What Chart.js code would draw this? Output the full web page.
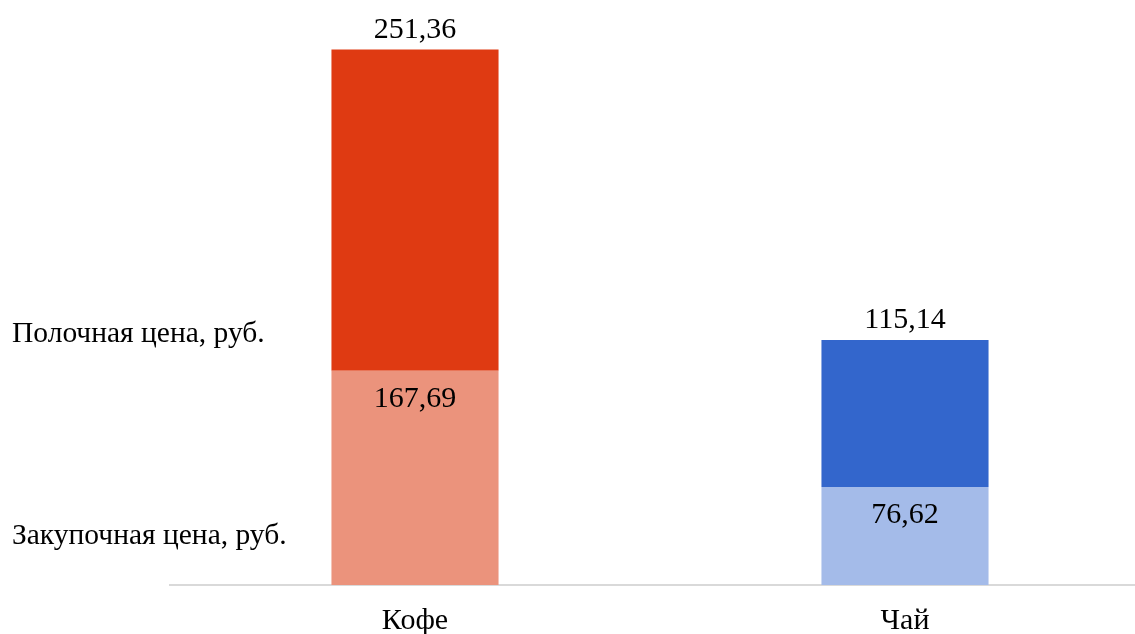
<!DOCTYPE html>
<html>
<head>
<meta charset="utf-8">
<script src="https://cdn.jsdelivr.net/npm/chart.js@4"></script>
<style>
  html, body { margin: 0; padding: 0; background: #fff; overflow: hidden; }
  #wrap { width: 1150px; height: 634px; }
</style>
</head>
<body>
<div id="wrap"><canvas id="grafico" width="1150" height="634"></canvas></div>
<script>
const categorias = ['Кофе', 'Чай'];
const serieNombres = ['Закупочная цена, руб.', 'Полочная цена, руб.'];
const zakupochnaya = [167.69, 76.62];
const polochnaya = [251.36, 115.14];

const FUENTE = "'Liberation Serif', 'Times New Roman', serif";

const formato = v => v.toFixed(2).replace('.', ',');

// etiquetas de valores y leyenda a la izquierda
const etiquetas = {
    id: 'etiquetas',
    afterDatasetsDraw(chart) {
        const ctx = chart.ctx;
        ctx.save();
        ctx.font = '30px ' + FUENTE;
        ctx.fillStyle = '#000';
        ctx.textAlign = 'center';
        ctx.textBaseline = 'alphabetic';
        chart.data.datasets.forEach((ds, i) => {
            const meta = chart.getDatasetMeta(i);
            meta.data.forEach((bar, j) => {
                const y = i === 0 ? bar.y + 36 : bar.y - 12;
                ctx.fillText(formato(ds.data[j]), bar.x, y);
            });
        });
        ctx.textAlign = 'left';
        ctx.font = '29.5px ' + FUENTE;
        ctx.fillText(serieNombres[1], 12, 342);
        ctx.fillText(serieNombres[0], 12, 544);
        ctx.restore();
    }
};

new Chart(document.getElementById('grafico').getContext('2d'), {
    type: 'bar',
    data: {
        labels: categorias,
        datasets: [
            { label: serieNombres[0], data: zakupochnaya, backgroundColor: ['#EB937C', '#A4BBE9'] },
            { label: serieNombres[1], data: polochnaya, backgroundColor: ['#DF3A12', '#3366CC'] }
        ]
    },
    options: {
        responsive: false,
        animation: false,
        layout: { padding: { left: 170, right: 0, top: 10, bottom: -23 } },
        plugins: { legend: { display: false }, tooltip: { enabled: false } },
        datasets: { bar: { categoryPercentage: 1, barPercentage: 0.341 } },
        scales: {
            x: {
                stacked: true,
                grid: { display: false, drawTicks: false },
                border: { display: true, color: '#d9d9d9', width: 2 },
                ticks: { color: '#000', padding: 18, maxRotation: 0, autoSkip: false, font: { family: FUENTE, size: 30 } }
            },
            y: {
                stacked: true,
                display: false,
                min: 0,
                max: 450
            }
        }
    },
    plugins: [etiquetas]
});
</script>
</body>
</html>
